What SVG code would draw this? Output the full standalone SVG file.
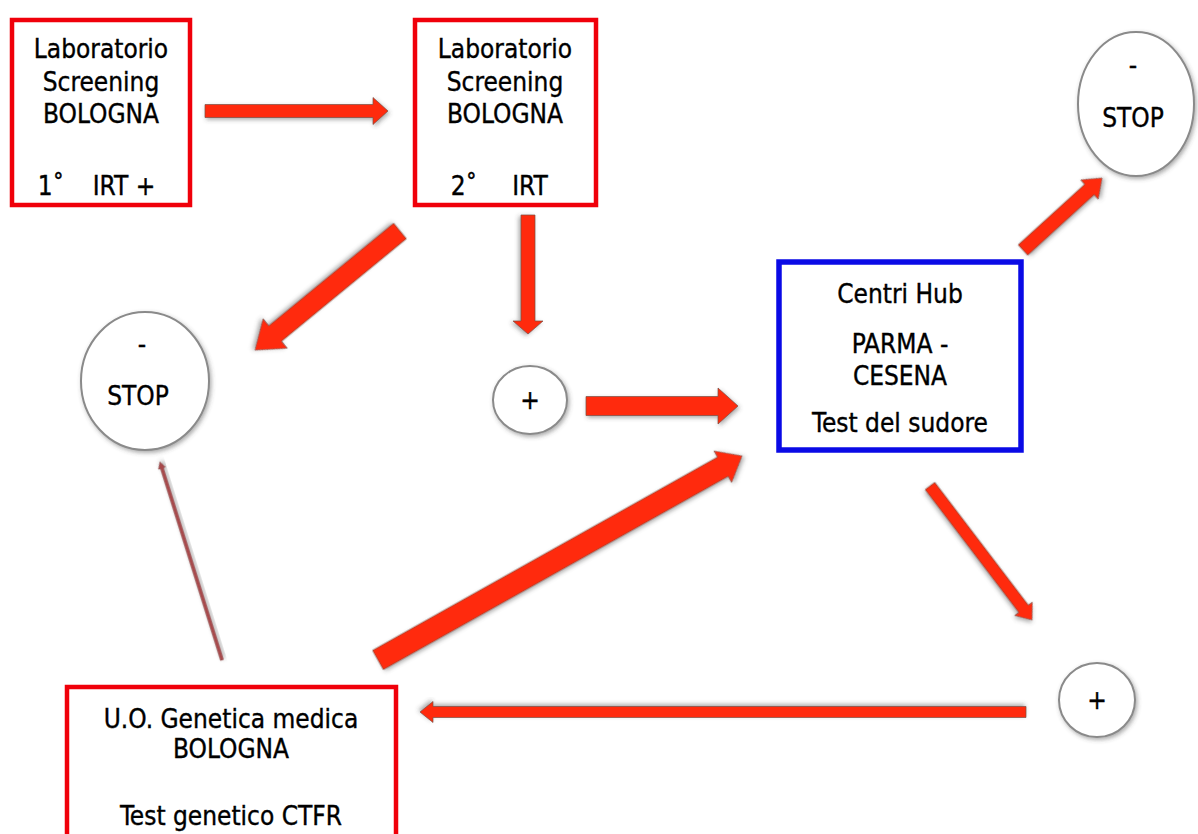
<svg xmlns="http://www.w3.org/2000/svg" width="1198" height="834" viewBox="0 0 1198 834">
<defs>
<filter id="sh" x="-20%" y="-20%" width="140%" height="140%">
<feDropShadow dx="1.5" dy="2" stdDeviation="2" flood-color="#444" flood-opacity="0.45"/>
</filter>
<style>
.box{fill:#fff;stroke:#f0000a;stroke-width:4.5}
.hub{fill:#fff;stroke:#0a0ae6;stroke-width:5.5}
.circ{fill:#fff;stroke:#8a8a8a;stroke-width:2;filter:url(#sh)}
.arr{fill:#ff2a08;stroke:#7a5048;stroke-width:1;stroke-opacity:0.7;filter:url(#sh)}
.thin{fill:#a8484c;stroke:#8a4a4a;stroke-width:0.6;filter:url(#sh)}
text{font-family:"DejaVu Sans Condensed","DejaVu Sans",sans-serif;font-stretch:condensed;font-size:26px;fill:#000;stroke:#000;stroke-width:0.35;text-anchor:middle}
</style>
</defs>
<rect width="1198" height="834" fill="#fff"/>
<g id="connectors">
<polygon class="arr" transform="translate(205,111)" points="0,-6.5 168,-6.5 168,-13.5 183,0 168,13.5 168,6.5 0,6.5"/>
<polygon class="arr" transform="translate(528,215) rotate(90)" points="0,-7 106,-7 106,-15 119,0 106,15 106,7 0,7"/>
<polygon class="arr" transform="translate(400,231) rotate(140.6)" points="0,-10 161.6,-10 161.6,-19 187.6,0 161.6,19 161.6,10 0,10"/>
<polygon class="arr" transform="translate(586,406)" points="0,-9.5 132,-9.5 132,-18 152,0 132,18 132,9.5 0,9.5"/>
<polygon class="arr" transform="translate(378,660) rotate(-29.27)" points="0,-11 395.3,-11 395.3,-18 417.3,0 395.3,18 395.3,11 0,11"/>
<polygon class="arr" transform="translate(930,486) rotate(52.7)" points="0,-6 154.4,-6 154.4,-11 168.4,0 154.4,11 154.4,6 0,6"/>
<polygon class="arr" transform="translate(1026,712) rotate(180)" points="0,-5.5 593,-5.5 593,-10.5 606,0 593,10.5 593,5.5 0,5.5"/>
<polygon class="thin" transform="translate(222,660) rotate(-107.4)" points="0,-1.6 201,-1.6 201,-3.5 207.5,0 201,3.5 201,1.6 0,1.6"/>
<polygon class="arr" transform="translate(1023,250) rotate(-42.3)" points="0,-7 89.9,-7 89.9,-13 106.9,0 89.9,13 89.9,7 0,7"/>
</g>
<g id="lab1">
<rect class="box" x="12" y="20" width="178" height="185"/>
<text x="101" y="58">Laboratorio</text>
<text x="101" y="91">Screening</text>
<text x="101" y="123">BOLOGNA</text>
<text y="195"><tspan x="51">1˚</tspan><tspan x="124">IRT +</tspan></text>
</g>
<g id="lab2">
<rect class="box" x="415" y="20" width="181" height="185"/>
<text x="505" y="58">Laboratorio</text>
<text x="505" y="91">Screening</text>
<text x="505" y="123">BOLOGNA</text>
<text y="195"><tspan x="464">2˚</tspan><tspan x="530">IRT</tspan></text>
</g>
<g id="stop1">
<ellipse class="circ" cx="145" cy="381" rx="64" ry="69"/>
<text x="142" y="353">-</text>
<text x="138" y="405">STOP</text>
</g>
<g id="plus1">
<ellipse class="circ" cx="530" cy="400" rx="37" ry="34"/>
<text x="530" y="409">+</text>
</g>
<g id="hub">
<rect class="hub" x="779" y="262" width="242" height="188"/>
<text x="900" y="303">Centri Hub</text>
<text x="900" y="353">PARMA -</text>
<text x="900" y="385">CESENA</text>
<text x="900" y="432">Test del sudore</text>
</g>
<g id="stop2">
<ellipse class="circ" cx="1136" cy="104" rx="58" ry="72"/>
<text x="1133" y="74">-</text>
<text x="1133" y="127">STOP</text>
</g>
<g id="plus2">
<ellipse class="circ" cx="1097" cy="700" rx="38" ry="37"/>
<text x="1097" y="709">+</text>
</g>
<g id="genetica">
<rect class="box" x="67" y="687" width="329" height="160"/>
<text x="231" y="728">U.O. Genetica medica</text>
<text x="231" y="758">BOLOGNA</text>
<text x="231" y="825">Test genetico CTFR</text>
</g>
</svg>
